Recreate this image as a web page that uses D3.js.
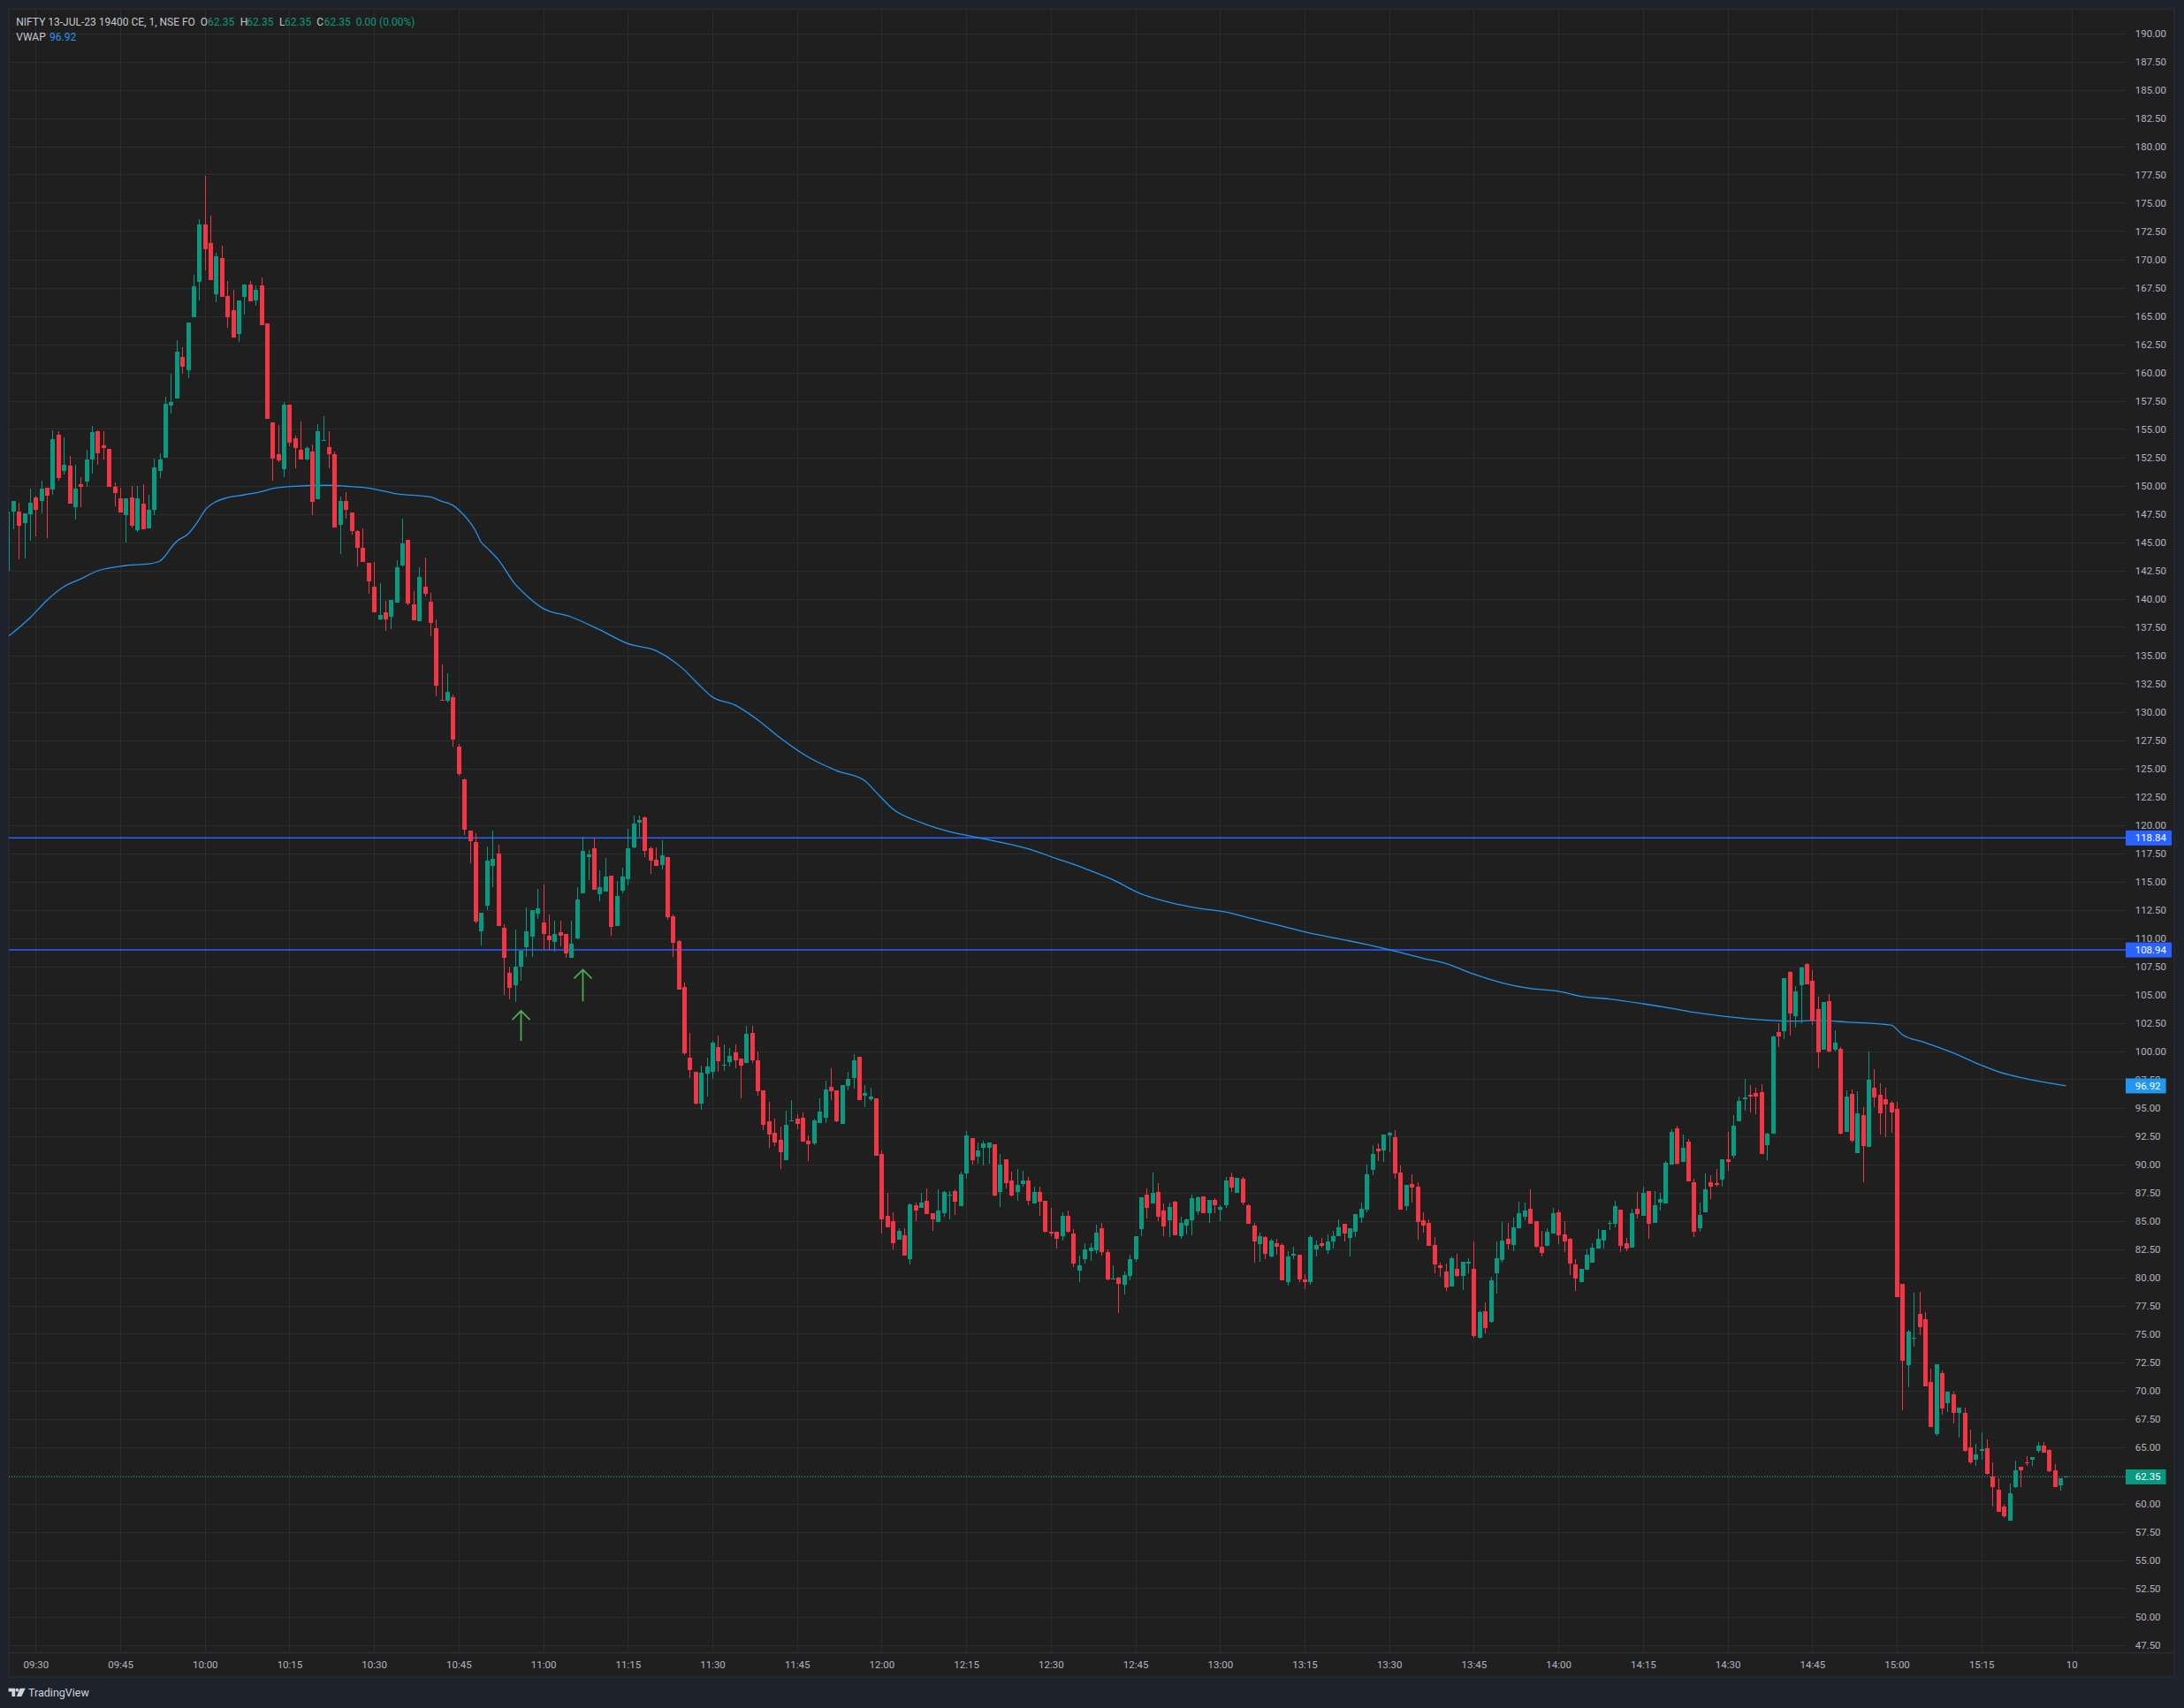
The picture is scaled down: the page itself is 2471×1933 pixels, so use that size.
<!DOCTYPE html>
<html><head><meta charset="utf-8">
<script src="https://cdn.jsdelivr.net/npm/d3@7"></script>
<style>
html,body{margin:0;padding:0;background:#1e222d;overflow:hidden;}
svg{display:block;}
text{font-family:Roboto,"DejaVu Sans",sans-serif;}
</style></head><body>
<svg id="c" width="2471" height="1933"></svg>
<script>
// ---- DATA ----
// bar index 0 = 09:30, first bar = 09:25 (index -5), last bar = next session open (index 360)
const startIndex = -5;
const opens = [
142.5,147.73,147.73,146.69,147.47,148.98,148.62,149.84,149.63,154.53,
151.27,151.72,148.07,150.08,150.34,152.29,154.77,153.59,153.28,149.92,
148.9,147.37,148.98,146.04,148.41,146.2,147.84,151.27,152.47,157.06,
157.68,161.33,160.23,164.87,167.99,173.12,171.48,166.9,170.08,166.72,
165.47,163.38,166.67,167.81,166.35,167.73,164.3,155.6,152.81,151.46,
157.18,154.16,153.2,152.32,153.04,148.8,153.96,153.43,152.74,146.56,
148.67,147.58,145.97,144.46,143.14,141.04,138.18,138.77,138.41,139.66,
142.94,145.18,139.52,138.01,141.04,139.69,137.42,131.07,130.94,131.27,
126.9,124.0,119.5,118.51,110.62,112.82,116.37,117.43,110.88,106.94,
105.8,107.46,109.2,110.14,112.12,111.39,110.22,109.62,110.53,110.38,
108.27,109.99,113.92,117.17,117.95,113.89,114.13,115.53,111.08,114.2,
115.22,118.03,120.22,120.69,117.95,116.94,116.47,117.17,111.94,109.75,
105.69,99.44,98.19,95.38,98.03,98.19,100.38,98.74,99.05,99.91,
99.36,98.97,101.63,99.2,96.55,93.81,92.8,92.17,90.38,93.81,
94.01,94.09,92.06,91.85,93.65,94.11,96.82,96.51,93.57,96.93,
97.63,99.48,96.07,95.76,95.81,90.89,85.42,84.95,83.33,83.7,
81.61,86.35,86.15,86.74,85.65,84.9,85.68,87.21,87.6,86.3,
89.19,92.29,90.68,91.46,91.46,91.74,87.55,90.42,88.54,87.55,
88.26,88.54,86.54,87.53,86.74,84.01,84.01,83.65,85.42,83.85,
80.6,81.61,82.32,82.4,84.32,82.21,79.82,79.97,79.35,80.13,
81.61,84.27,87.29,86.54,87.53,85.89,85.05,86.67,83.65,84.58,
85.05,85.83,87.14,85.68,86.82,85.99,86.38,88.85,87.47,88.7,
86.35,84.56,82.94,83.54,81.85,83.02,82.86,79.58,81.93,82.01,
79.82,79.58,82.47,82.99,82.4,83.18,83.65,84.71,83.49,84.04,
85.29,85.99,89.51,91.35,91.22,92.55,92.37,89.24,86.3,88.23,
87.99,85.03,84.79,82.84,81.09,80.49,79.19,80.73,80.13,81.22,
80.73,74.66,76.98,76.07,80.36,81.54,83.39,82.86,84.35,85.37,
86.04,84.95,82.68,82.79,83.88,85.73,83.78,83.39,81.12,79.58,
80.68,81.3,82.55,83.26,84.74,84.74,85.99,83.02,82.63,86.07,
85.44,87.63,84.82,86.61,86.54,89.97,93.18,90.21,92.01,88.41,
84.35,85.76,88.41,88.33,88.65,90.44,90.76,93.8,95.76,96.15,
96.3,96.38,91.69,92.71,101.67,101.74,106.98,103.07,105.83,107.68,
106.2,103.7,100.13,104.4,100.13,100.18,92.86,96.2,90.96,94.35,
91.52,96.75,96.12,95.73,95.43,94.87,79.42,72.25,74.55,76.75,
76.29,70.74,66.1,71.52,68.83,69.62,67.97,68.01,64.95,63.9,
64.68,64.88,62.42,61.2,59.72,58.5,61.46,63.24,63.67,63.83,
64.65,65.15,64.72,62.94,61.59,62.35];
const highs = [
148.0,148.67,148.51,147.55,149.71,149.11,150.41,149.84,154.92,154.84,
154.29,152.58,151.8,150.75,153.2,155.31,154.92,154.77,153.28,150.29,
149.84,148.9,149.97,149.97,150.08,149.16,152.42,152.89,157.89,159.87,
162.84,162.26,164.45,168.67,173.59,177.42,173.83,170.62,171.25,168.05,
167.34,166.33,167.81,168.12,167.73,168.36,164.3,155.6,155.37,157.35,
157.18,154.45,155.7,153.47,153.6,155.44,156.1,154.78,153.04,149.0,
149.39,147.58,146.07,146.23,143.14,143.27,141.37,139.79,139.92,143.37,
147.05,145.18,140.64,142.75,143.6,140.48,138.14,134.16,133.41,131.53,
127.16,124.07,119.5,119.27,112.2,118.12,119.53,118.28,111.24,107.5,
110.78,108.9,112.72,112.5,114.36,114.75,112.09,111.55,111.55,110.38,
111.55,114.52,118.97,117.8,118.81,116.0,117.1,115.53,115.06,116.24,
119.67,120.85,120.85,120.77,118.11,118.03,118.66,117.17,112.09,109.83,
106.08,101.63,98.19,98.74,99.44,100.92,101.39,100.61,100.3,100.61,
99.36,102.25,102.25,99.99,96.55,95.53,94.03,93.33,94.75,95.69,
94.4,94.56,92.53,94.01,95.81,97.37,98.46,96.51,96.98,98.15,
99.71,99.48,96.98,96.74,95.81,91.2,87.45,85.73,84.32,84.32,
86.51,86.59,87.45,87.84,85.65,87.76,87.6,87.6,87.76,89.32,
92.92,92.29,91.9,92.06,91.9,91.74,90.89,90.42,89.32,89.56,
89.4,88.85,88.0,88.0,86.74,86.12,84.01,85.73,85.89,84.24,
81.9,83.0,83.0,84.64,84.79,82.45,81.04,80.05,80.52,81.98,
83.62,87.06,87.84,89.24,88.31,86.51,86.59,86.74,85.34,85.18,
87.29,87.14,87.14,86.82,86.98,86.35,88.85,89.24,88.77,88.85,
86.43,84.79,83.93,83.62,83.39,83.39,83.02,82.32,82.68,82.01,
80.29,83.7,83.26,83.46,83.78,84.09,85.1,84.71,84.32,85.57,
86.59,89.95,91.67,91.82,92.6,92.84,92.99,89.87,88.15,89.09,
88.39,85.73,85.1,83.54,81.3,81.2,81.82,82.06,81.35,81.67,
83.15,77.06,77.76,80.03,83.15,84.87,84.79,85.26,86.67,86.59,
87.76,84.95,84.09,84.32,86.12,85.96,84.95,83.46,81.61,80.73,
82.45,83.02,84.27,84.19,85.03,86.77,85.99,83.49,86.07,87.55,
88.02,87.63,87.63,87.47,90.29,93.1,93.41,92.63,92.24,88.72,
86.61,89.19,89.04,89.58,90.44,92.86,94.35,95.99,97.55,97.01,
96.77,97.08,92.79,101.35,102.45,106.43,107.06,105.73,107.45,107.8,
107.14,104.79,104.32,105.03,101.82,100.34,96.54,96.61,96.45,95.04,
99.94,98.39,97.14,96.75,95.56,95.5,79.42,75.34,78.63,78.69,
76.92,71.92,72.31,71.76,69.85,69.85,68.47,68.47,66.53,65.28,
66.3,65.64,63.63,62.19,59.88,61.76,63.8,63.24,64.16,64.09,
65.41,65.41,64.82,63.44,62.19,62.35];
const lows = [
142.0,146.12,143.46,143.57,145.13,145.47,147.53,145.34,149.16,150.44,
151.01,148.38,146.98,148.07,149.89,151.07,151.85,152.29,149.87,148.15,
147.6,144.95,146.27,145.91,146.12,146.2,147.37,150.65,152.47,156.4,
157.68,159.87,159.53,164.87,166.35,169.01,168.15,166.2,166.67,163.93,
163.07,162.68,165.1,166.27,165.88,164.17,155.88,150.4,152.08,150.74,
153.47,151.49,152.32,152.22,147.35,148.8,153.96,151.49,146.3,143.93,
147.05,145.64,142.84,143.24,140.44,138.8,138.08,137.12,137.29,139.66,
142.84,139.43,138.08,138.01,140.18,136.7,131.37,130.97,130.84,126.93,
124.33,119.1,116.64,111.28,109.34,112.43,114.5,111.05,105.0,104.6,
104.3,106.2,108.29,108.29,111.7,108.92,108.92,108.76,109.28,108.27,
108.27,109.91,113.92,115.14,114.28,113.27,114.13,110.22,111.08,113.97,
114.67,117.95,118.97,117.17,115.69,116.39,116.08,111.63,108.35,105.46,
99.67,97.64,95.3,94.83,96.0,97.56,98.19,98.27,98.66,98.5,
95.85,98.97,98.97,96.08,93.03,91.47,91.63,89.59,90.38,93.81,
93.1,92.0,90.29,91.69,93.65,93.65,95.68,93.72,93.57,96.54,
96.69,95.68,95.05,95.57,90.76,83.88,84.43,82.47,83.33,81.93,
81.15,84.97,86.15,85.6,84.11,84.9,85.36,85.13,85.52,86.3,
88.72,89.97,90.05,89.9,90.05,87.16,86.22,87.86,87.16,86.77,
88.02,86.38,86.54,85.44,83.93,83.62,82.55,83.26,83.96,80.91,
79.58,81.22,81.46,82.08,81.93,79.74,79.82,76.87,78.49,79.74,
81.38,83.65,85.21,86.54,84.97,83.65,83.57,83.72,83.41,83.8,
83.72,85.52,85.68,84.82,85.68,84.97,86.15,87.53,87.47,86.38,
84.74,81.3,81.38,81.61,81.77,82.01,79.74,79.27,81.61,79.58,
78.96,79.35,81.85,82.63,82.08,82.55,83.65,83.18,81.85,83.57,
84.82,85.76,89.04,90.29,90.21,91.07,88.72,85.99,85.91,86.61,
83.33,83.96,82.79,80.36,80.05,78.8,79.19,80.05,78.88,80.36,
74.64,74.58,75.05,75.99,78.57,81.3,82.47,82.32,84.35,85.05,
84.74,82.63,81.85,82.79,83.88,82.94,82.24,80.21,78.8,79.58,
80.68,81.3,82.55,82.55,84.19,84.43,82.24,82.32,82.63,85.21,
85.44,83.41,84.82,85.91,86.54,89.97,89.97,90.21,88.49,83.57,
84.04,85.76,86.93,88.02,88.02,89.43,90.52,93.8,94.74,94.58,
94.43,90.91,90.36,92.71,100.34,101.04,101.35,102.06,102.47,105.91,
102.32,98.49,100.13,99.9,99.97,92.63,92.86,91.93,90.96,88.43,
91.52,95.04,92.6,92.41,92.8,78.27,68.27,70.31,73.83,74.85,
70.37,66.72,65.94,67.88,68.11,67.05,65.8,64.55,63.5,63.3,
63.9,62.51,59.75,59.23,58.7,58.5,61.4,61.43,63.34,63.34,
64.49,64.52,62.75,61.46,61.1,62.35];
const closes = [
147.7,148.67,146.43,147.55,148.51,147.84,149.69,149.09,154.14,150.65,
151.87,148.38,149.69,149.87,152.32,154.69,152.84,153.31,149.87,149.32,
147.6,148.83,146.43,148.9,146.12,147.89,151.64,152.27,157.26,157.37,
161.8,160.49,164.45,167.65,173.05,170.91,168.15,170.31,166.67,164.87,
163.12,166.33,167.81,166.27,167.34,164.17,155.88,152.4,152.22,157.12,
153.76,153.33,152.32,153.3,148.53,154.78,154.06,152.81,146.3,148.6,
147.84,145.97,144.49,143.24,141.53,138.8,138.54,138.18,139.92,142.75,
144.85,139.56,138.08,141.89,140.44,137.85,132.32,130.97,131.73,127.55,
124.53,119.56,118.54,111.44,112.2,116.87,116.97,111.05,108.25,105.6,
107.5,108.89,110.61,112.49,112.64,110.32,109.83,110.38,110.22,108.61,
109.52,113.42,117.72,117.41,114.28,114.52,115.45,111.0,113.74,115.45,
117.95,120.14,120.45,117.72,116.86,116.39,117.33,111.86,109.6,105.46,
99.83,98.35,95.38,98.11,98.66,100.77,99.13,98.81,99.6,99.2,
98.74,101.55,99.2,96.47,93.5,92.64,91.94,91.08,93.5,93.89,
93.57,92.0,91.77,93.85,94.64,96.59,96.46,93.8,96.98,97.53,
99.17,95.68,96.28,95.96,90.76,85.13,84.43,83.02,84.09,81.93,
86.43,85.91,86.59,85.6,85.13,85.89,87.53,87.29,86.67,89.09,
92.53,90.36,91.2,91.82,91.9,87.24,89.95,88.33,87.24,88.15,
88.54,86.77,87.53,86.69,84.01,83.85,83.41,85.42,84.04,81.22,
81.04,82.45,82.6,83.93,82.24,79.82,79.9,79.43,80.21,81.61,
83.62,87.06,86.15,87.45,85.37,84.51,86.2,83.72,84.79,85.1,
86.98,87.06,85.68,86.82,86.38,86.2,88.54,87.94,88.77,86.61,
84.74,83.18,83.62,82.08,83.23,82.71,79.74,81.85,82.08,79.82,
79.58,83.54,82.86,82.79,83.15,83.62,84.4,83.88,84.32,85.57,
86.04,89.09,90.89,91.15,92.6,92.76,89.19,85.99,88.15,87.94,
84.9,84.58,82.79,81.15,80.83,79.11,81.67,80.13,81.35,81.35,
74.82,76.9,75.52,79.71,81.67,83.23,82.94,84.4,85.65,85.89,
84.74,82.71,82.16,84.01,85.65,83.72,83.18,81.22,79.9,80.73,
82.01,82.63,83.41,84.19,84.82,86.3,82.79,82.55,85.68,85.6,
87.47,84.74,86.38,86.93,90.13,92.86,90.05,91.46,88.49,84.04,
85.52,87.79,88.02,88.18,90.44,90.21,93.41,95.6,95.89,95.99,
95.99,90.91,92.71,101.28,101.28,106.43,103.31,105.26,107.37,105.91,
102.71,99.9,104.32,99.97,100.73,92.71,95.96,92.08,94.48,91.58,
97.47,95.86,94.48,95.27,94.58,78.27,72.64,75.21,74.68,75.6,
70.37,66.72,72.31,68.43,69.85,68.04,68.47,64.65,63.6,64.32,
64.82,62.58,61.46,59.23,58.9,60.87,62.91,62.91,63.53,64.09,
65.11,64.52,62.88,61.46,62.19,62.35];

// VWAP read at selected bars
const vwapIdx = [-5,-1,2,5,8,11,16,20,22,23,24,25,27,29,30,32,34,37,40,42,45,52,55,59,64,70,72,74,75,78,79,80,82,85,87,90,95,100,105,110,115,117,120,124,128,132,137,142,147,149,152,157,162,166,171,176,181,186,191,196,201,206,211,216,221,226,231,236,241,246,250,255,260,265,270,274,279,285,290,294,299,305,311,316,321,329,331,335,340,345,348,354,360];
const vwapVal = [136.6,138.3,139.85,141.05,141.75,142.46,142.93,143.07,143.32,143.8,144.49,145.06,145.7,147.0,147.8,148.58,148.93,149.18,149.47,149.73,149.91,150.02,149.94,149.78,149.27,148.99,148.6,148.25,147.85,146.0,145.0,144.5,143.47,141.3,140.3,139.13,138.38,137.25,136.02,135.4,133.7,132.7,131.3,130.6,129.3,127.7,126.0,124.8,123.9,122.9,121.4,120.2,119.4,118.98,118.47,117.88,117.02,116.15,115.15,113.9,113.16,112.65,112.3,111.67,111.04,110.42,109.94,109.42,108.84,108.2,107.75,106.8,106.03,105.53,105.28,104.84,104.6,104.18,103.78,103.42,103.1,102.8,102.64,102.7,102.57,102.3,101.45,100.75,99.84,98.75,98.18,97.45,96.92];

const levels = [118.84, 108.94];
const lastPrice = 62.35;
const vwapLast = 96.92;

const timeTickIdx = [0,15,30,45,60,75,90,105,120,135,150,165,180,195,210,225,240,255,270,285,300,315,330,345,361];
const timeTickLabels = ["09:30","09:45","10:00","10:15","10:30","10:45","11:00","11:15","11:30","11:45","12:00","12:15","12:30","12:45","13:00","13:15","13:30","13:45","14:00","14:15","14:30","14:45","15:00","15:15","10"];
const priceTicks = d3.range(47.5, 190.01, 2.5);

const arrowIdx = [86, 97];
const arrowTop = [103.55, 107.2];
const arrowBottom = [100.9, 104.4];

const legendTitle = "NIFTY 13-JUL-23 19400 CE, 1, NSE FO";
const legendKeys = ["O","H","L","C"];
const legendVals = ["62.35","62.35","62.35","62.35"];
const legendChange = "0.00 (0.00%)";

// ---- LAYOUT ----
const W = 2471, H = 1933;
const P = {l:10, r:2405, t:10, b:1870};
const GREEN = "#089981", RED = "#f23645";
const svg = d3.select("#c");

const x = d3.scaleLinear().domain([0, 345]).range([40.3, 2241.7]);
const y = d3.scaleLinear().domain([100, 190]).range([1189.5, 37.5]);

svg.append("rect").attr("width", W).attr("height", H).attr("fill", "#1e222d");
svg.append("rect").attr("x", 10).attr("y", 10).attr("width", 2450).attr("height", 1888)
  .attr("fill", "#1f1f1f").attr("stroke", "#2a2e39").attr("stroke-width", 1);

const defs = svg.append("defs");
defs.append("clipPath").attr("id", "plotclip").append("rect")
  .attr("x", P.l).attr("y", P.t).attr("width", P.r - P.l).attr("height", P.b - P.t);

// grid
const grid = svg.append("g").attr("shape-rendering", "crispEdges");
grid.selectAll("line.h").data(priceTicks).join("line")
  .attr("x1", P.l).attr("x2", P.r)
  .attr("y1", d => Math.round(y(d)) + 0.5).attr("y2", d => Math.round(y(d)) + 0.5)
  .attr("stroke", "#2c2c2c");
grid.selectAll("line.v").data(timeTickIdx).join("line")
  .attr("y1", P.t).attr("y2", P.b)
  .attr("x1", d => Math.round(x(d)) + 0.5).attr("x2", d => Math.round(x(d)) + 0.5)
  .attr("stroke", "#2c2c2c");

// separator between plot and time axis
svg.append("line").attr("x1", 10).attr("x2", 2460).attr("y1", P.b + 0.5).attr("y2", P.b + 0.5)
  .attr("stroke", "#2a2e39").attr("stroke-width", 1.5);

const plot = svg.append("g").attr("clip-path", "url(#plotclip)");

// level lines
plot.selectAll("line.lvl").data(levels).join("line")
  .attr("x1", P.l).attr("x2", P.r + 5)
  .attr("y1", d => y(d)).attr("y2", d => y(d))
  .attr("stroke", "#2962ff").attr("stroke-width", 1.5);

// last price dotted line
plot.append("line").attr("x1", P.l).attr("x2", P.r)
  .attr("y1", Math.round(y(lastPrice)) + 0.5).attr("y2", Math.round(y(lastPrice)) + 0.5)
  .attr("stroke", GREEN).attr("stroke-width", 1).attr("stroke-dasharray", "1,2");

// VWAP
const vwapPts = vwapIdx.map((d, i) => [d, vwapVal[i]]);
plot.append("path").datum(vwapPts)
  .attr("d", d3.line().x(d => x(d[0])).y(d => y(d[1])).curve(d3.curveMonotoneX))
  .attr("fill", "none").attr("stroke", "#2196f3").attr("stroke-width", 1.3);

// candles
const bars = opens.map((o, i) => ({m: startIndex + i, o, h: highs[i], l: lows[i], c: closes[i]}));
const cg = plot.append("g").attr("shape-rendering", "crispEdges");
const cs = cg.selectAll("g").data(bars).join("g");
cs.append("rect")
  .attr("x", d => Math.round(x(d.m)))
  .attr("width", 1)
  .attr("y", d => y(d.h))
  .attr("height", d => Math.max(1, y(d.l) - y(d.h)))
  .attr("fill", d => d.c >= d.o ? GREEN : RED);
cs.append("rect")
  .attr("x", d => Math.round(x(d.m)) - 2)
  .attr("width", 5)
  .attr("y", d => y(Math.max(d.o, d.c)))
  .attr("height", d => Math.max(1, Math.abs(y(d.o) - y(d.c))))
  .attr("fill", d => d.c >= d.o ? GREEN : RED);

// arrows
const ag = plot.append("g");
arrowIdx.forEach((m, i) => {
  const ax = Math.round(x(m)) + 0.5, yt = y(arrowTop[i]), yb = y(arrowBottom[i]);
  ag.append("path")
    .attr("d", `M${ax},${yb}L${ax},${yt}M${ax-10},${yt+10}L${ax},${yt}L${ax+10},${yt+10}`)
    .attr("fill", "none").attr("stroke", "#4caf50").attr("stroke-width", 1.7);
});

// price axis
const yAxis = d3.axisRight(y).tickValues(priceTicks).tickSize(0).tickPadding(0)
  .tickFormat(d3.format(".2f"));
const ya = svg.append("g").attr("transform", "translate(2415.7,0)").call(yAxis);
ya.select(".domain").remove();
ya.selectAll("text").attr("fill", "#b2b5be").attr("font-size", "11.5px")
  .attr("font-family", "Roboto, 'DejaVu Sans', sans-serif");

// time axis
const xAxis = d3.axisBottom(x).tickValues(timeTickIdx).tickSize(0).tickPadding(0)
  .tickFormat((d, i) => timeTickLabels[i]);
const xa = svg.append("g").attr("transform", "translate(0,1883.5)").call(xAxis);
xa.select(".domain").remove();
xa.selectAll("text").attr("y", 0).attr("dy", "0.35em").attr("fill", "#b2b5be")
  .attr("font-size", "11.5px").attr("font-family", "Roboto, 'DejaVu Sans', sans-serif");

// price labels on axis
const labels = [
  {v: levels[0], bg: "#2962ff"},
  {v: levels[1], bg: "#2962ff"},
  {v: vwapLast, bg: "#2196f3"},
  {v: lastPrice, bg: GREEN}
];
labels.forEach(lb => {
  const g = svg.append("g");
  const cy = y(lb.v);
  const r = g.append("rect").attr("x", 2405).attr("y", cy - 8.5).attr("height", 17).attr("fill", lb.bg);
  const t = g.append("text").attr("x", 2415.7).attr("y", cy).attr("dy", "0.35em")
    .attr("fill", "#ffffff").attr("font-size", "11.5px").text(d3.format(".2f")(lb.v));
  const len = t.node().getComputedTextLength();
  r.attr("width", 2415.7 + len + 6 - 2405);
});

// legend
const lg = svg.append("g").attr("font-size", "12px");
lg.append("text").attr("x", 18.3).attr("y", 29.3).attr("fill", "#c4c7cf").text(legendTitle);
const keyX = [226.7, 271.7, 316, 358.3];
const valX = [235, 279.3, 322, 366.7];
legendKeys.forEach((k, i) => {
  lg.append("text").attr("x", keyX[i]).attr("y", 29.3).attr("fill", "#c4c7cf").text(k);
  lg.append("text").attr("x", valX[i]).attr("y", 29.3).attr("fill", GREEN).text(legendVals[i]);
});
lg.append("text").attr("x", 402.7).attr("y", 29.3).attr("fill", GREEN).text(legendChange);
lg.append("text").attr("x", 18.3).attr("y", 46).attr("fill", "#c4c7cf").text("VWAP");
lg.append("text").attr("x", 56).attr("y", 46).attr("fill", "#2196f3").text(d3.format(".2f")(vwapLast));

// TradingView logo
const logo = svg.append("g").attr("fill", "#d1d4dc");
logo.append("path").attr("d", "M9.6,1910.7h7.6v9.3h-3.8v-5.6h-3.8z");
logo.append("circle").attr("cx", 19.4).attr("cy", 1912.7).attr("r", 1.9);
logo.append("path").attr("d", "M22.6,1910.7h6.1l-4.4,9.3h-5.6z");
logo.append("text").attr("x", 32).attr("y", 1919.8).attr("font-size", "12.5px").text("TradingView");
</script>
</body></html>
